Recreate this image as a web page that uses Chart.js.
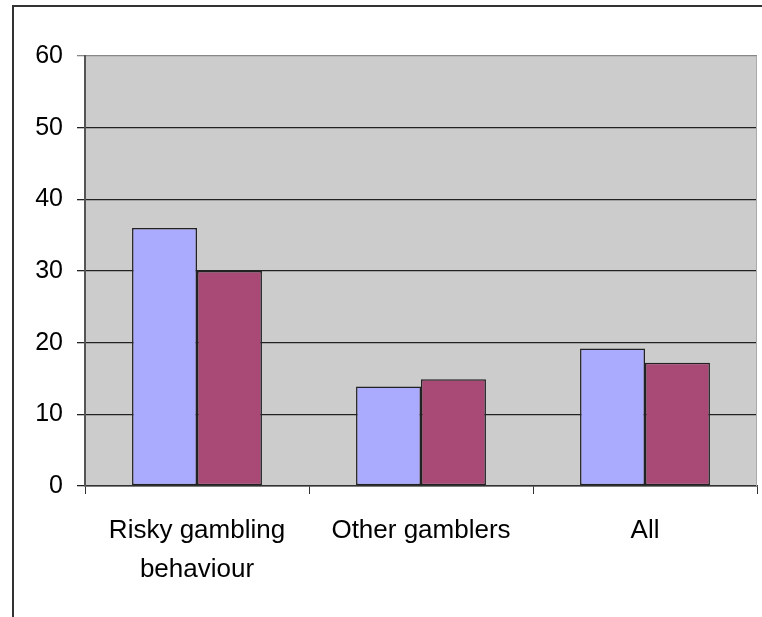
<!DOCTYPE html>
<html>
<head>
<meta charset="utf-8">
<script src="https://cdn.jsdelivr.net/npm/chart.js@4"></script>
<style>
  html, body { margin: 0; padding: 0; background: #fff; }
  #wrap { width: 762px; height: 617px; position: relative; }
</style>
</head>
<body>
<div id="wrap"><canvas id="c" width="762" height="617"></canvas></div>
<script>
const categories = [["Risky gambling", "behaviour"], "Other gamblers", "All"];
const seriesA = [36, 13.9, 19.2];
const seriesB = [30, 14.9, 17.2];
const yTicks = [0, 10, 20, 30, 40, 50, 60];

const bgPlugin = {
  id: 'bg',
  beforeDraw(chart) {
    const { ctx, chartArea: a } = chart;
    ctx.save();
    ctx.fillStyle = '#fff';
    ctx.fillRect(0, 0, chart.width, chart.height);
    ctx.fillStyle = '#CCCCCC';
    ctx.fillRect(a.left, a.top, a.right - a.left, a.bottom - a.top);
    ctx.restore();
  },
  afterDraw(chart) {
    const { ctx, chartArea: a } = chart;
    ctx.save();
    ctx.strokeStyle = '#AAAAAA';
    ctx.lineWidth = 1;
    ctx.beginPath();
    ctx.moveTo(a.right - 0.5, a.top);
    ctx.lineTo(a.right - 0.5, a.bottom);
    ctx.stroke();
    ctx.strokeStyle = '#333';
    ctx.lineWidth = 2;
    ctx.beginPath();
    ctx.moveTo(13, 617);
    ctx.lineTo(13, 6);
    ctx.lineTo(762, 6);
    ctx.stroke();
    ctx.restore();
  }
};

new Chart(document.getElementById('c'), {
  type: 'bar',
  data: {
    labels: categories,
    datasets: [
      { data: seriesA, backgroundColor: '#AAAAFF', borderColor: '#222', borderWidth: 1.5, borderSkipped: false },
      { data: seriesB, backgroundColor: '#A94A76', borderColor: '#222', borderWidth: 1.5, borderSkipped: false }
    ]
  },
  options: {
    responsive: false,
    animation: false,
    devicePixelRatio: 1,
    layout: { padding: { left: 0, top: 56, right: 5, bottom: 0 } },
    plugins: { legend: { display: false }, tooltip: { enabled: false } },
    datasets: { bar: { categoryPercentage: 0.58, barPercentage: 1 } },
    scales: {
      x: {
        afterFit(s) { s.height = 131; },
        offset: true,
        grid: { offset: true, drawOnChartArea: false, drawTicks: true, tickLength: 8, color: '#333', lineWidth: 1 },
        border: { color: '#333', width: 1.5 },
        ticks: { color: '#000', padding: 17, font: { family: '"Liberation Sans", Arial, sans-serif', size: 26, lineHeight: 1.52 }, maxRotation: 0 }
      },
      y: {
        min: 0, max: 60,
        afterFit(s) { s.width = 85; },
        afterBuildTicks(s) { s.ticks = yTicks.map(v => ({ value: v })); },
        grid: {
          color: (c) => (c.tick && c.tick.value === 60) ? '#888' : '#222',
          lineWidth: 1.3, tickLength: 8, drawTicks: true
        },
        border: { color: '#555', width: 2 },
        ticks: { color: '#000', padding: 14, font: { family: '"Liberation Sans", Arial, sans-serif', size: 25 } }
      }
    }
  },
  plugins: [bgPlugin]
});
</script>
</body>
</html>
